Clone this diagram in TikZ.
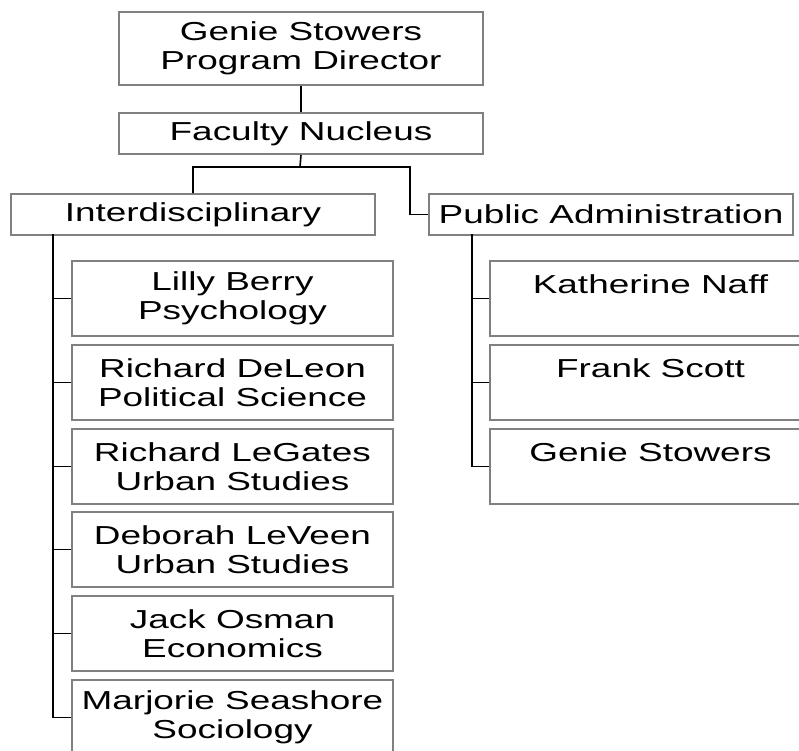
\documentclass[tikz,border=0pt]{standalone}
\usepackage{fontspec}
\setmainfont{Liberation Sans}[FakeStretch=1.42]
\usepackage{tikz}

\begin{document}
\begin{tikzpicture}[x=1pt, y=-1pt,
    every node/.style={draw=gray, line width=2pt, inner sep=0pt, anchor=north west,
      align=center, font=\fontsize{26}{29}\selectfont},
    headbox/.style={minimum width=364pt, minimum height=73pt},
    groupbox/.style={minimum width=364pt, minimum height=41pt},
    memberbox/.style={minimum width=321pt, minimum height=75pt},
    link/.style={draw=black, line width=1.6pt}]
    \useasboundingbox (0,0) rectangle (799,750);
    \clip (0,0) rectangle (799,750);

    % Top of the chart
    \node[headbox] (dir) at (118,11) {Genie Stowers\\Program Director};
    \node[groupbox] (fac) at (118,112) {Faculty Nucleus};
    \draw[link] (dir) -- (fac);

    % The two groups
    \node[groupbox] (inter) at (10,193) {Interdisciplinary};
    \node[groupbox] (pa) at (428,193) {Public Administration};
    \coordinate (fork) at (300,167);
    \coordinate (rbend) at (410,167);
    \draw[link] (fac.south) -- (fork) -| (inter.north);
    \draw[link] (fork) -- (rbend) |- (pa.west);

    % Interdisciplinary faculty
    \node[memberbox] (berry) at (71,260) {Lilly Berry\\Psychology};
    \node[memberbox] (deleon) at (71,344) {Richard DeLeon\\Political Science};
    \node[memberbox] (legates) at (71,428) {Richard LeGates\\Urban Studies};
    \node[memberbox] (leveen) at (71,511) {Deborah LeVeen\\Urban Studies};
    \node[memberbox] (osman) at (71,595) {Jack Osman\\Economics};
    \node[memberbox] (seashore) at (71,679) {Marjorie Seashore\\Sociology};
    \coordinate (ibus) at (53,234);
    \draw[link] (ibus) |- (berry.west);
    \draw[link] (ibus) |- (deleon.west);
    \draw[link] (ibus) |- (legates.west);
    \draw[link] (ibus) |- (leveen.west);
    \draw[link] (ibus) |- (osman.west);
    \draw[link] (ibus) |- (seashore.west);

    % Public Administration faculty
    \node[memberbox] (naff) at (489,260) {Katherine Naff\\\mbox{}};
    \node[memberbox] (scott) at (489,344) {Frank Scott\\\mbox{}};
    \node[memberbox] (stowers) at (489,428) {Genie Stowers\\\mbox{}};
    \coordinate (pbus) at (472,234);
    \draw[link] (pbus) |- (naff.west);
    \draw[link] (pbus) |- (scott.west);
    \draw[link] (pbus) |- (stowers.west);
\end{tikzpicture}
\end{document}
